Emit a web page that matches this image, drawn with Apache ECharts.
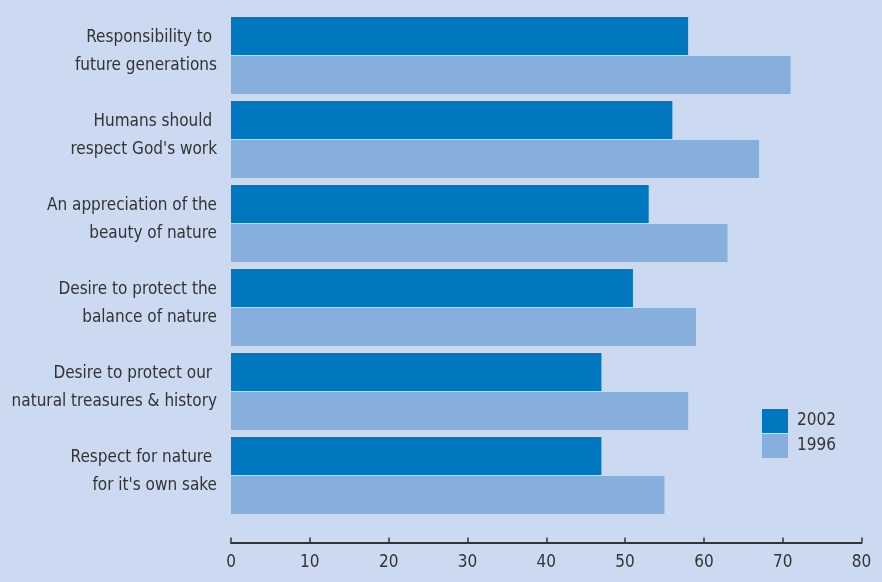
<!DOCTYPE html>
<html>
<head>
<meta charset="utf-8">
<script src="https://cdn.jsdelivr.net/npm/echarts@6/dist/echarts.min.js"></script>
<style>
html,body{margin:0;padding:0;background:#cbdaf0;}
#c{width:882px;height:582px;}
</style>
</head>
<body>
<div id="c"></div>
<script>
var categories = [
  "Responsibility to \nfuture generations",
  "Humans should \nrespect God's work",
  "An appreciation of the\nbeauty of nature",
  "Desire to protect the\nbalance of nature",
  "Desire to protect our \nnatural treasures & history",
  "Respect for nature \nfor it's own sake"
];
var values2002 = [58, 56, 53, 51, 47, 47];
var values1996 = [71, 67, 63, 59, 58, 55];
var seriesNames = ["2002", "1996"];
var xTicks = [0, 10, 20, 30, 40, 50, 60, 70, 80];

var FONT = "'Liberation Sans Narrow', 'DejaVu Sans Condensed', 'Noto Sans', sans-serif";
var chart = echarts.init(document.getElementById('c'), null, {renderer: 'canvas'});
chart.setOption({
  backgroundColor: '#cbdaf0',
  animation: false,
  grid: {left: 231, right: 20.5, top: 13.5, bottom: 64.5, containLabel: false},
  legend: {
    orient: 'vertical', left: 762, top: 409, padding: 0,
    itemWidth: 26, itemHeight: 24, itemGap: 1,
    icon: 'rect',
    data: seriesNames,
    textStyle: {fontFamily: FONT, fontSize: 17, color: '#333', padding: [0, 0, 0, 4]}
  },
  xAxis: {
    type: 'value', min: xTicks[0], max: xTicks[xTicks.length - 1], interval: 10,
    offset: 25,
    splitLine: {show: false},
    axisLine: {show: true, lineStyle: {color: '#333', width: 2}},
    axisTick: {show: true, inside: true, length: 5, lineStyle: {color: '#333', width: 1.5}},
    axisLabel: {fontFamily: FONT, fontSize: 17, color: '#333', margin: 12}
  },
  yAxis: {
    type: 'category', data: categories, inverse: true,
    axisLine: {show: false}, axisTick: {show: false}, splitLine: {show: false},
    axisLabel: {
      margin: 14, align: 'right',
      formatter: function (v) {
        return v.split('\n').map(function (s) { return '{a|' + s + '}'; }).join('\n') + '\n{b| }';
      },
      rich: {
        a: {fontFamily: FONT, fontSize: 17, color: '#333', lineHeight: 28, align: 'right'},
        b: {fontSize: 4, lineHeight: 8}
      }
    }
  },
  series: [
    {name: seriesNames[0], type: 'bar', data: values2002, barWidth: 38, barGap: '3%',
     itemStyle: {color: '#0077bf'}},
    {name: seriesNames[1], type: 'bar', data: values1996, barWidth: 38, barGap: '3%',
     itemStyle: {color: '#87afdd'}}
  ]
});
</script>
</body>
</html>
